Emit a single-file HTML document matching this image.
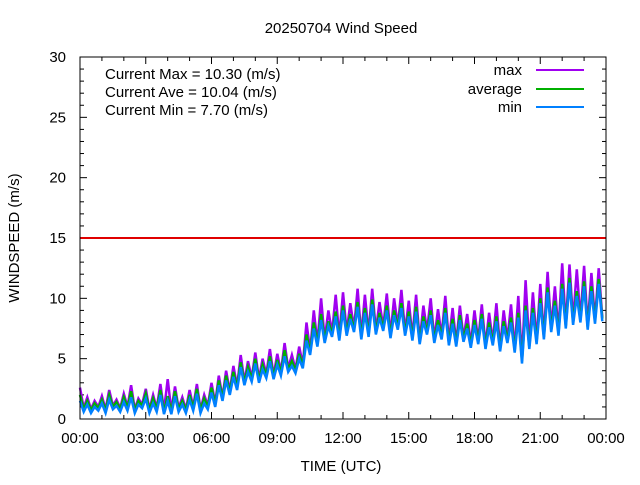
<!DOCTYPE html>
<html><head><meta charset="utf-8"><style>
body{margin:0;background:#fff}
svg text{font-family:"Liberation Sans",sans-serif;font-size:15px;fill:#000}
</style></head><body>
<svg id="c" width="640" height="480" xmlns="http://www.w3.org/2000/svg">
<rect width="640" height="480" fill="#fff"/>
<text x="341" y="33" text-anchor="middle">20250704 Wind Speed</text>
<text transform="translate(19,238) rotate(-90)" text-anchor="middle">WINDSPEED (m/s)</text>
<text x="341" y="471" text-anchor="middle">TIME (UTC)</text>
<g id="ticks"></g>
<g id="series"></g>
<line x1="80" x2="606" y1="238" y2="238" stroke="#e00000" stroke-width="2"/>
<rect x="80" y="57" width="526" height="362" fill="none" stroke="#000" stroke-width="1"/>
<g>
<text x="105" y="79">Current Max = 10.30 (m/s)</text>
<text x="105" y="97">Current Ave = 10.04 (m/s)</text>
<text x="105" y="115">Current Min = 7.70 (m/s)</text>
</g>
<g>
<g><text x="522" y="75" text-anchor="end">max</text><line x1="536" x2="584" y1="70" y2="70" stroke="#a000f0" stroke-width="2"/></g>
<g><text x="522" y="94" text-anchor="end">average</text><line x1="536" x2="584" y1="89" y2="89" stroke="#00b000" stroke-width="2"/></g>
<g><text x="522" y="112" text-anchor="end">min</text><line x1="536" x2="584" y1="107" y2="107" stroke="#0080ff" stroke-width="2"/></g>
</g>
</svg>
<script>
const yTicks=[0,5,10,15,20,25,30];
const xTickLabels=["00:00","03:00","06:00","09:00","12:00","15:00","18:00","21:00","00:00"];
const maxVals=[2.6,0.9,1.8,0.8,1.5,1.0,1.9,0.8,2.4,1.1,1.6,0.9,2.1,1.0,2.8,0.8,1.7,1.2,2.5,0.8,2.0,0.9,2.9,0.7,3.3,0.7,2.7,0.9,1.8,0.8,2.4,1.0,2.9,0.8,2.0,1.1,3.0,1.3,3.6,1.8,4.0,2.3,4.4,2.7,5.3,3.1,4.8,3.4,5.5,3.3,5.0,3.7,5.8,3.6,5.4,3.9,6.3,4.2,5.3,4.1,6.0,4.5,8.0,5.6,9.0,6.3,10.0,6.6,9.0,7.1,10.3,6.8,10.5,7.2,9.6,7.5,10.8,6.9,10.3,7.1,10.8,7.3,9.7,7.6,10.4,7.0,10.0,7.7,10.7,7.2,9.8,6.8,10.3,6.5,9.4,7.3,10.0,6.6,9.1,6.9,10.2,6.4,9.2,6.3,9.4,6.7,8.7,6.2,9.0,6.5,9.5,6.1,8.8,6.4,9.6,5.9,9.0,6.6,9.5,5.8,10.2,4.9,11.5,6.1,10.5,6.5,11.2,6.9,12.2,7.5,11.0,7.2,12.9,7.8,12.8,8.1,12.4,8.3,12.7,7.7,12.1,8.2,12.5,8.4];
const aveVals=[2.0,0.8,1.5,0.7,1.3,0.9,1.6,0.7,2.0,1.0,1.4,0.8,1.8,0.9,2.3,0.7,1.5,1.1,2.1,0.7,1.7,0.8,2.4,0.6,1.9,0.6,2.3,0.8,1.5,0.7,2.0,0.9,2.5,0.7,1.7,1.0,2.6,1.2,3.2,1.7,3.6,2.2,3.9,2.6,4.7,3.0,4.3,3.3,5.0,3.2,4.5,3.6,5.2,3.5,4.9,3.8,5.7,4.1,4.8,4.0,5.4,4.4,7.0,5.5,8.0,6.2,8.7,6.5,8.1,7.0,8.9,6.7,9.4,7.1,8.7,7.4,9.7,6.8,9.2,7.0,9.9,7.2,8.8,7.5,9.4,6.9,9.0,7.6,9.6,7.1,8.9,6.7,9.3,6.4,8.5,7.2,9.0,6.5,8.2,6.8,9.2,6.3,8.3,6.2,8.6,6.6,7.9,6.1,8.2,6.4,8.7,6.0,8.0,6.3,8.5,5.8,8.1,6.5,8.4,5.7,8.8,4.8,9.4,6.0,9.2,6.4,10.0,6.8,10.9,7.4,9.8,7.1,11.2,7.7,11.7,8.0,10.6,8.2,11.4,7.6,11.0,8.1,11.6,8.3];
const minVals=[1.5,0.6,1.2,0.5,1.0,0.7,1.3,0.5,1.6,0.8,1.1,0.6,1.4,0.7,1.8,0.5,1.2,0.9,1.7,0.5,1.3,0.6,2.0,0.4,1.5,0.4,1.9,0.6,1.2,0.5,1.6,0.7,2.1,0.5,1.3,0.8,2.2,1.0,2.8,1.5,3.2,2.0,3.5,2.4,4.3,2.8,3.9,3.1,4.6,3.0,4.1,3.4,4.8,3.3,4.5,3.6,5.2,3.9,4.4,3.8,5.0,4.2,6.5,5.3,7.5,6.0,8.2,6.3,7.7,6.8,8.5,6.5,9.0,6.9,8.3,7.2,9.3,6.6,8.8,6.8,9.5,7.0,8.4,7.3,9.0,6.7,8.6,7.4,9.2,6.9,8.5,6.5,8.9,6.2,8.1,7.0,8.6,6.3,7.8,6.6,8.8,6.1,7.9,6.0,8.2,6.4,7.5,5.9,7.8,6.2,8.3,5.8,7.6,6.1,8.1,5.6,7.7,6.3,8.0,5.5,8.4,4.6,9.0,5.8,8.8,6.2,9.6,6.6,10.5,7.2,9.4,6.9,10.8,7.5,11.3,7.8,10.2,8.0,11.0,7.4,10.6,7.9,11.2,8.1];
const NS="http://www.w3.org/2000/svg";
const X0=80,X1=606,Y0=419,Y1=57;
function xs(h){return X0+h/24*(X1-X0);}
function ys(v){return Y0-v/30*(Y0-Y1);}
const tg=document.getElementById('ticks');
function ln(x1,y1,x2,y2,parent){const l=document.createElementNS(NS,'line');l.setAttribute('x1',x1);l.setAttribute('y1',y1);l.setAttribute('x2',x2);l.setAttribute('y2',y2);l.setAttribute('stroke','#000');parent.appendChild(l);return l;}
for(let v=0;v<=30;v++){const y=ys(v);const L=v%5===0?7:4;
 const t=ln(X0,y,X0+L,y,tg);
 
 
 ln(X1-L,y,X1,y,tg);}
yTicks.forEach(v=>{const t=document.createElementNS(NS,'text');t.setAttribute('x',66);t.setAttribute('y',ys(v)+5);t.setAttribute('text-anchor','end');t.textContent=v;
 
 
 tg.appendChild(t);});
for(let h=0;h<=24;h++){const x=xs(h);const L=h%3===0?7:4;
 const t=ln(x,Y0,x,Y0-L,tg);
 
 
 ln(x,Y1,x,Y1+L,tg);}
xTickLabels.forEach((s,i)=>{const t=document.createElementNS(NS,'text');t.setAttribute('x',xs(i*3));t.setAttribute('y',443);t.setAttribute('text-anchor','middle');t.textContent=s;
 
 
 tg.appendChild(t);});
const sg=document.getElementById('series');
function draw(vals,color,name){const n=vals.length;
 const d=vals.map((v,i)=>(i?'L':'M')+xs(i*24/n).toFixed(1)+','+ys(v).toFixed(1)).join('');
 const p=document.createElementNS(NS,'path');p.setAttribute('d',d);p.setAttribute('fill','none');p.setAttribute('stroke',color);p.setAttribute('stroke-width','2.5');p.setAttribute('stroke-linejoin','miter');
 
 
 sg.appendChild(p);}
draw(maxVals,'#a000f0','max-series');
draw(aveVals,'#00b000','average-series');
draw(minVals,'#0080ff','min-series');
</script>
</body></html>
